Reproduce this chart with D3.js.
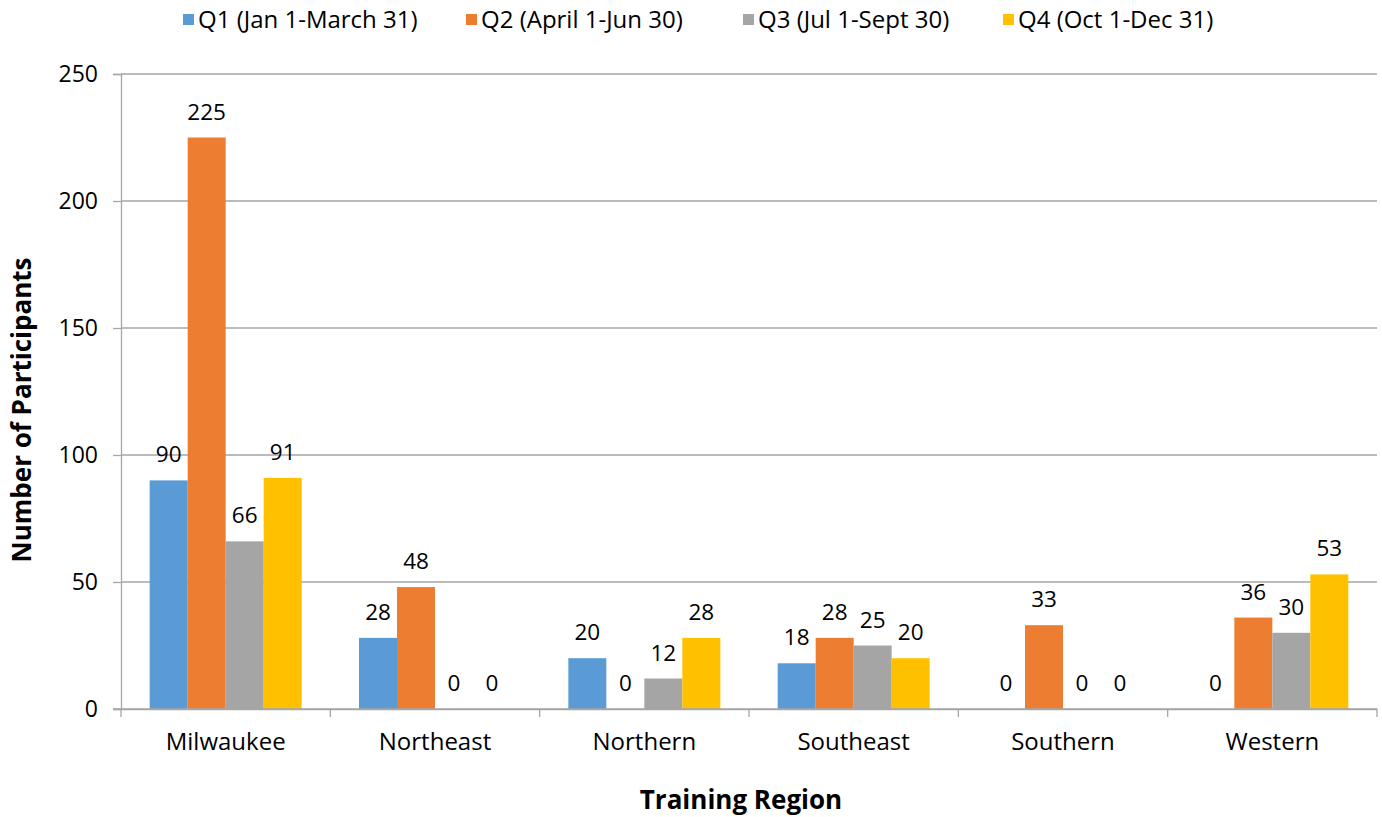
<!DOCTYPE html>
<html><head><meta charset="utf-8">
<script src="https://cdn.jsdelivr.net/npm/d3@7"></script>
<style>body{margin:0;background:#fff}svg{display:block;font-family:"Open Sans",sans-serif}</style>
</head><body>
<svg id="c" width="1382" height="817"></svg>
<script>
const categories = ["Milwaukee","Northeast","Northern","Southeast","Southern","Western"];
const seriesNames = ["Q1 (Jan 1-March 31)","Q2 (April 1-Jun 30)","Q3 (Jul 1-Sept 30)","Q4 (Oct 1-Dec 31)"];
const q1 = [90,28,20,18,0,0];
const q2 = [225,48,0,28,33,36];
const q3 = [66,0,12,25,0,30];
const q4 = [91,0,28,20,0,53];
const yTicks = [0,50,100,150,200,250];
const colors = ["#5B9BD5","#ED7D31","#A5A5A5","#FFC000"];
const series = [q1,q2,q3,q4];

const svg = d3.select("#c");
const m = {l:121, r:1377, t:74, b:709};
const x = d3.scaleBand().domain(categories).range([m.l,m.r]).paddingInner(0).paddingOuter(0);
const inner = 152/209.33;
const xs = d3.scaleBand().domain(d3.range(4)).range([0,x.bandwidth()*inner]);
const off = x.bandwidth()*(1-inner)/2;
const y = d3.scaleLinear().domain([0,250]).range([m.b,m.t]);

// gridlines
svg.append("g").selectAll("line").data(yTicks.filter(d=>d>0)).join("line")
  .attr("x1",m.l).attr("x2",m.r).attr("y1",d=>y(d)).attr("y2",d=>y(d))
  .attr("stroke","#a6a6a6").attr("stroke-width",1.3);

// y axis
const ya = svg.append("g").attr("transform",`translate(${m.l},0)`)
  .call(d3.axisLeft(y).tickValues(yTicks).tickSize(8).tickPadding(15));
ya.select(".domain").attr("stroke","#a6a6a6").attr("stroke-width",1.3);
ya.selectAll(".tick line").attr("stroke","#a6a6a6").attr("stroke-width",1.3);
ya.selectAll("text").attr("font-size","23px").attr("fill","#000").attr("font-family","Open Sans");

// bars
categories.forEach((c,ci)=>{
  series.forEach((s,si)=>{
    const v = s[ci];
    const bx = x(c)+off+xs(si);
    if (v>0) svg.append("rect").attr("x",bx).attr("y",y(v)).attr("width",xs.bandwidth()).attr("height",y(0)-y(v)).attr("fill",colors[si]);
    svg.append("text").attr("x",bx+xs.bandwidth()/2).attr("y",y(v)-18)
      .attr("text-anchor","middle").attr("font-size","22.5px").attr("fill","#000").text(v);
  });
});

// x axis
const xa = svg.append("g").attr("transform",`translate(0,${m.b})`)
  .call(d3.axisBottom(x).tickSize(0).tickPadding(35));
xa.select(".domain").attr("stroke","#a6a6a6").attr("stroke-width",1.3);
xa.selectAll("text").attr("font-size","24px").attr("fill","#000").attr("font-family","Open Sans").attr("dy","0.25em");
const edges = categories.map(c=>x(c)).concat([m.r]);
svg.append("g").selectAll("line").data(edges).join("line")
  .attr("x1",d=>d).attr("x2",d=>d).attr("y1",m.b).attr("y2",m.b+8)
  .attr("stroke","#a6a6a6").attr("stroke-width",1.3);
svg.append("line").attr("x1",m.l-8).attr("x2",m.r).attr("y1",m.b).attr("y2",m.b).attr("stroke","#a6a6a6").attr("stroke-width",1.3);

// axis titles
svg.append("text").attr("x",741).attr("y",809).attr("text-anchor","middle")
  .attr("font-size","26px").attr("font-weight","bold").text("Training Region");
svg.append("text").attr("transform","translate(31,410) rotate(-90)").attr("text-anchor","middle")
  .attr("font-size","26px").attr("font-weight","bold").text("Number of Participants");

// legend
const lx = [183,466,743,1003];
const lg = svg.append("g");
seriesNames.forEach((n,i)=>{
  lg.append("rect").attr("x",lx[i]).attr("y",14).attr("width",11).attr("height",11).attr("fill",colors[i]);
  lg.append("text").attr("x",lx[i]+15).attr("y",28).attr("font-size","24px").attr("fill","#000").text(n);
});
</script>
</body></html>
